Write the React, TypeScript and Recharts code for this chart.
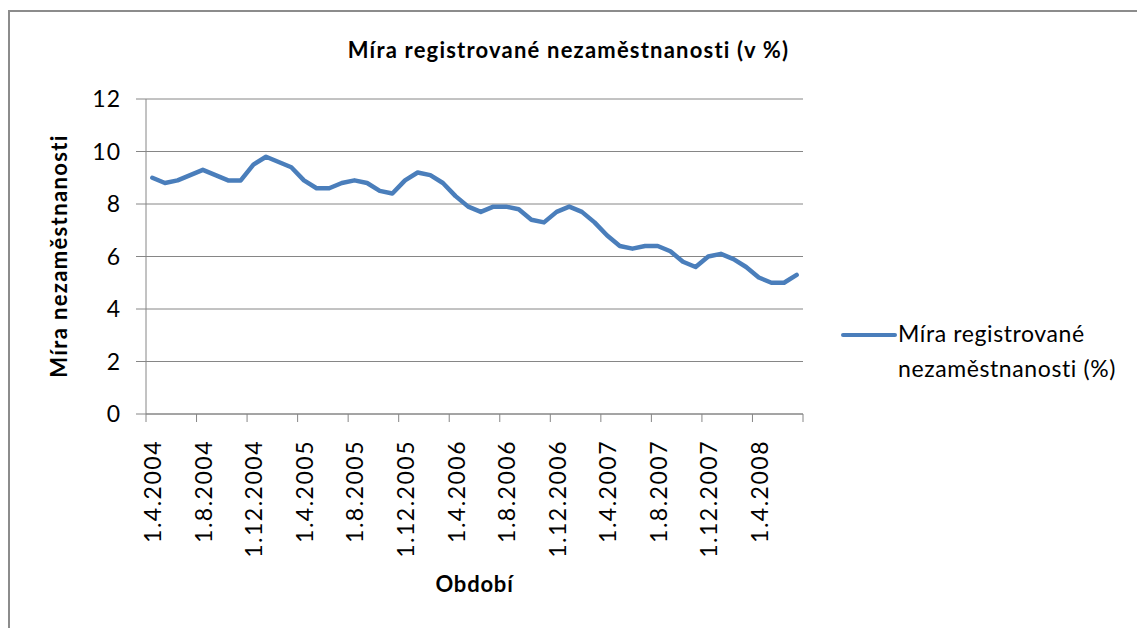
import React from "react"
import { CartesianGrid, Legend, Line, LineChart, XAxis, YAxis } from "recharts"

// monthly categories, April 2004 - July 2008
const months = [
  "1.4.2004", "1.5.2004", "1.6.2004", "1.7.2004", "1.8.2004", "1.9.2004", "1.10.2004", "1.11.2004", "1.12.2004",
  "1.1.2005", "1.2.2005", "1.3.2005", "1.4.2005", "1.5.2005", "1.6.2005", "1.7.2005", "1.8.2005", "1.9.2005",
  "1.10.2005", "1.11.2005", "1.12.2005",
  "1.1.2006", "1.2.2006", "1.3.2006", "1.4.2006", "1.5.2006", "1.6.2006", "1.7.2006", "1.8.2006", "1.9.2006",
  "1.10.2006", "1.11.2006", "1.12.2006",
  "1.1.2007", "1.2.2007", "1.3.2007", "1.4.2007", "1.5.2007", "1.6.2007", "1.7.2007", "1.8.2007", "1.9.2007",
  "1.10.2007", "1.11.2007", "1.12.2007",
  "1.1.2008", "1.2.2008", "1.3.2008", "1.4.2008", "1.5.2008", "1.6.2008", "1.7.2008",
]

const rate = [
  9.0, 8.8, 8.9, 9.1, 9.3, 9.1, 8.9, 8.9, 9.5, 9.8, 9.6, 9.4, 8.9, 8.6, 8.6, 8.8, 8.9, 8.8,
  8.5, 8.4, 8.9, 9.2, 9.1, 8.8, 8.3, 7.9, 7.7, 7.9, 7.9, 7.8, 7.4, 7.3, 7.7, 7.9, 7.7, 7.3,
  6.8, 6.4, 6.3, 6.4, 6.4, 6.2, 5.8, 5.6, 6.0, 6.1, 5.9, 5.6, 5.2, 5.0, 5.0, 5.3,
]

const yTicks = [0, 2, 4, 6, 8, 10, 12]

const SERIES_NAME = "Míra registrované nezaměstnanosti (%)"
const FONT = "Lato, Carlito, Calibri, sans-serif"
const GRID = "#868686"

const W = 1137
const H = 628
const PLOT_LEFT = 146
const PLOT_RIGHT = 803
const PLOT_W = PLOT_RIGHT - PLOT_LEFT
const STEP = PLOT_W / months.length

const data = months.map((m, i) => ({ name: m, value: rate[i] }))

// labels every 4th month, tick marks on category boundaries (Excel style)
function MonthTick(props: any) {
  const { x, y, index, payload } = props
  const axisY = y - 26
  const last = index === months.length - 1
  return (
    <g>
      {index % 4 === 0 && (
        <>
          <line x1={x - STEP / 2} x2={x - STEP / 2} y1={axisY} y2={axisY + 8} stroke={GRID} />
          <text
            x={x}
            y={y}
            dy={9}
            transform={`rotate(-90 ${x} ${y})`}
            textAnchor="end"
            fontSize={23}
            letterSpacing={1.5}
            fontFamily={FONT}
            fill="#000"
          >
            {payload.value}
          </text>
        </>
      )}
      {last && <line x1={x + STEP / 2} x2={x + STEP / 2} y1={axisY} y2={axisY + 8} stroke={GRID} />}
    </g>
  )
}

function LegendBox(props: any) {
  const item = props.payload && props.payload[0]
  if (!item) return null
  return (
    <div
      style={{
        position: "relative",
        fontFamily: FONT,
        fontSize: 23,
        letterSpacing: 0.6,
        lineHeight: "34.5px",
        color: "#000",
      }}
    >
      <svg width={60} height={40} style={{ position: "absolute", left: 0, top: 0 }}>
        <line x1={5} x2={57} y1={19} y2={19} stroke={item.color} strokeWidth={4} strokeLinecap="round" />
      </svg>
      <div style={{ marginLeft: 60, width: 228 }}>{item.value}</div>
    </div>
  )
}

const titleStyle: React.CSSProperties = {
  position: "absolute",
  fontFamily: FONT,
  fontWeight: 700,
  fontSize: 22,
  lineHeight: "26px",
  whiteSpace: "nowrap",
}

export default function App() {
  return (
    <div style={{ position: "absolute", left: 0, top: 0, width: W, height: H, background: "#fff", overflow: "hidden" }}>
      <div
        style={{
          position: "absolute",
          left: 8,
          top: 10,
          width: W + 40,
          height: H + 40,
          borderLeft: "2px solid #8c8c8c",
          borderTop: "2px solid #8c8c8c",
        }}
      />
      <div style={{ position: "absolute", left: 0, top: 0 }}>
        <LineChart width={W} height={H} data={data} margin={{ top: 99, right: W - PLOT_RIGHT, bottom: 94, left: PLOT_LEFT - 60 }}>
          <CartesianGrid horizontal vertical={false} stroke={GRID} />
          <XAxis
            dataKey="name"
            interval={0}
            height={120}
            padding={{ left: STEP / 2, right: STEP / 2 }}
            axisLine={{ stroke: GRID }}
            tickLine={false}
            tickSize={8}
            tickMargin={18}
            tick={<MonthTick />}
          />
          <YAxis
            width={60}
            domain={[0, 12]}
            ticks={yTicks}
            interval={0}
            axisLine={{ stroke: GRID }}
            tickLine={{ stroke: GRID }}
            tickSize={10}
            tickMargin={15}
            tick={{ fontSize: 23, fontFamily: FONT, fill: "#000", letterSpacing: 1 }}
          />
          <Legend
            layout="vertical"
            align="center"
            verticalAlign="middle"
            wrapperStyle={{ left: 838, top: 316, width: 295 }}
            content={<LegendBox />}
          />
          <Line
            type="linear"
            dataKey="value"
            name={SERIES_NAME}
            stroke="#4a7ebb"
            strokeWidth={4.5}
            strokeLinejoin="round"
            strokeLinecap="round"
            dot={false}
            activeDot={false}
            isAnimationActive={false}
          />
        </LineChart>
      </div>
      <div style={{ ...titleStyle, left: 0, top: 37, width: W, textAlign: "center", letterSpacing: 1.2 }}>
        Míra registrované nezaměstnanosti (v %)
      </div>
      <div
        style={{
          ...titleStyle,
          left: 59,
          top: 256,
          letterSpacing: 1.35,
          transform: "translate(-50%, -50%) rotate(-90deg)",
        }}
      >
        Míra nezaměstnanosti
      </div>
      <div style={{ ...titleStyle, left: PLOT_LEFT, top: 571, width: PLOT_W, textAlign: "center", letterSpacing: 0.8 }}>
        Období
      </div>
    </div>
  )
}
